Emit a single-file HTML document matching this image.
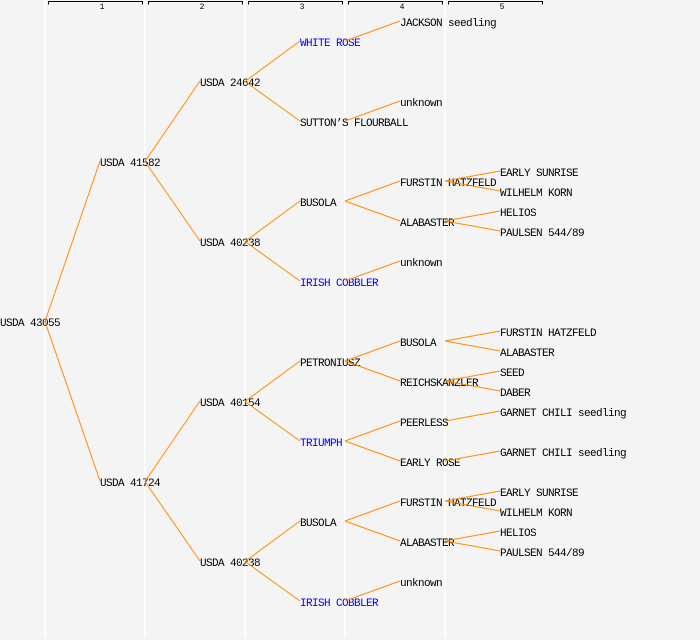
<!DOCTYPE html>
<html><head><meta charset="utf-8"><style>
html,body{margin:0;padding:0;background:#f4f4f4;}
svg{display:block;}
text{font-family:"Liberation Mono",monospace;font-size:11px;letter-spacing:-0.6px;fill:#000;}
text.b{fill:#0000ff;}
text.h{font-size:8px;letter-spacing:0;text-anchor:middle;}
</style></head><body>
<svg width="700" height="640" viewBox="0 0 700 640" xmlns="http://www.w3.org/2000/svg">
<rect width="700" height="640" fill="#f4f4f4"/>
<g fill="#ffffff">
<rect x="44" y="0" width="1.5" height="638"/>
<rect x="144" y="0" width="1.5" height="638"/>
<rect x="244" y="0" width="1.5" height="638"/>
<rect x="344" y="0" width="1.5" height="638"/>
<rect x="444" y="0" width="1.5" height="638"/>
</g>
<g stroke="#000" stroke-width="1" fill="none" shape-rendering="crispEdges">
<path d="M48.5 4.5V1.5H142.5V4.5"/>
<path d="M148.5 4.5V1.5H242.5V4.5"/>
<path d="M248.5 4.5V1.5H342.5V4.5"/>
<path d="M348.5 4.5V1.5H442.5V4.5"/>
<path d="M448.5 4.5V1.5H542.5V4.5"/>
</g>
<text class="h" x="102" y="9">1</text>
<text class="h" x="202" y="9">2</text>
<text class="h" x="302" y="9">3</text>
<text class="h" x="402" y="9">4</text>
<text class="h" x="502" y="9">5</text>

<!-- level 1 -->
<text x="0" y="326">USDA 43055</text>
<!-- level 2 -->
<text x="100" y="166">USDA 41582</text>
<text x="100" y="486">USDA 41724</text>
<!-- level 3 -->
<text x="200" y="86">USDA 24642</text>
<text x="200" y="246">USDA 40238</text>
<text x="200" y="406">USDA 40154</text>
<text x="200" y="566">USDA 40238</text>
<!-- level 4 -->
<text class="b" x="300" y="46">WHITE ROSE</text>
<text x="300" y="126">SUTTON’S FLOURBALL</text>
<text x="300" y="206">BUSOLA</text>
<text class="b" x="300" y="286">IRISH COBBLER</text>
<text x="300" y="366">PETRONIUSZ</text>
<text class="b" x="300" y="446">TRIUMPH</text>
<text x="300" y="526">BUSOLA</text>
<text class="b" x="300" y="606">IRISH COBBLER</text>
<!-- level 5 -->
<text x="400" y="26">JACKSON seedling</text>
<text x="400" y="106">unknown</text>
<text x="400" y="186">FURSTIN HATZFELD</text>
<text x="400" y="226">ALABASTER</text>
<text x="400" y="266">unknown</text>
<text x="400" y="346">BUSOLA</text>
<text x="400" y="386">REICHSKANZLER</text>
<text x="400" y="426">PEERLESS</text>
<text x="400" y="466">EARLY ROSE</text>
<text x="400" y="506">FURSTIN HATZFELD</text>
<text x="400" y="546">ALABASTER</text>
<text x="400" y="586">unknown</text>
<!-- level 6 -->
<text x="500" y="176">EARLY SUNRISE</text>
<text x="500" y="196">WILHELM KORN</text>
<text x="500" y="216">HELIOS</text>
<text x="500" y="236">PAULSEN 544/89</text>
<text x="500" y="336">FURSTIN HATZFELD</text>
<text x="500" y="356">ALABASTER</text>
<text x="500" y="376">SEED</text>
<text x="500" y="396">DABER</text>
<text x="500" y="416">GARNET CHILI seedling</text>
<text x="500" y="456">GARNET CHILI seedling</text>
<text x="500" y="496">EARLY SUNRISE</text>
<text x="500" y="516">WILHELM KORN</text>
<text x="500" y="536">HELIOS</text>
<text x="500" y="556">PAULSEN 544/89</text>

<g stroke="#ff8c00" stroke-width="1" fill="none">
<!-- L1->L2 -->
<line x1="45" y1="321.5" x2="100" y2="161"/>
<line x1="45" y1="321.5" x2="100" y2="481"/>
<!-- L2->L3 -->
<line x1="145" y1="161.5" x2="200" y2="81"/>
<line x1="145" y1="161.5" x2="200" y2="241"/>
<line x1="145" y1="481.5" x2="200" y2="401"/>
<line x1="145" y1="481.5" x2="200" y2="561"/>
<!-- L3->L4 -->
<line x1="245" y1="81.5" x2="300" y2="41"/>
<line x1="245" y1="81.5" x2="300" y2="121"/>
<line x1="245" y1="241.5" x2="300" y2="201"/>
<line x1="245" y1="241.5" x2="300" y2="281"/>
<line x1="245" y1="401.5" x2="300" y2="361"/>
<line x1="245" y1="401.5" x2="300" y2="441"/>
<line x1="245" y1="561.5" x2="300" y2="521"/>
<line x1="245" y1="561.5" x2="300" y2="601"/>
<!-- L4->L5 -->
<line x1="345" y1="41" x2="400" y2="21"/>
<line x1="345" y1="121" x2="400" y2="101"/>
<line x1="345" y1="201" x2="400" y2="181"/>
<line x1="345" y1="201" x2="400" y2="221"/>
<line x1="345" y1="281" x2="400" y2="261"/>
<line x1="345" y1="361" x2="400" y2="341"/>
<line x1="345" y1="361" x2="400" y2="381"/>
<line x1="345" y1="441" x2="400" y2="421"/>
<line x1="345" y1="441" x2="400" y2="461"/>
<line x1="345" y1="521" x2="400" y2="501"/>
<line x1="345" y1="521" x2="400" y2="541"/>
<line x1="345" y1="601" x2="400" y2="581"/>
<!-- L5->L6 -->
<line x1="445" y1="181" x2="500" y2="171"/>
<line x1="445" y1="181" x2="500" y2="191"/>
<line x1="445" y1="221" x2="500" y2="211"/>
<line x1="445" y1="221" x2="500" y2="231"/>
<line x1="445" y1="341" x2="500" y2="331"/>
<line x1="445" y1="341" x2="500" y2="351"/>
<line x1="445" y1="381" x2="500" y2="371"/>
<line x1="445" y1="381" x2="500" y2="391"/>
<line x1="445" y1="421" x2="500" y2="411"/>
<line x1="445" y1="461" x2="500" y2="451"/>
<line x1="445" y1="501" x2="500" y2="491"/>
<line x1="445" y1="501" x2="500" y2="511"/>
<line x1="445" y1="541" x2="500" y2="531"/>
<line x1="445" y1="541" x2="500" y2="551"/>
</g>
</svg>
</body></html>
